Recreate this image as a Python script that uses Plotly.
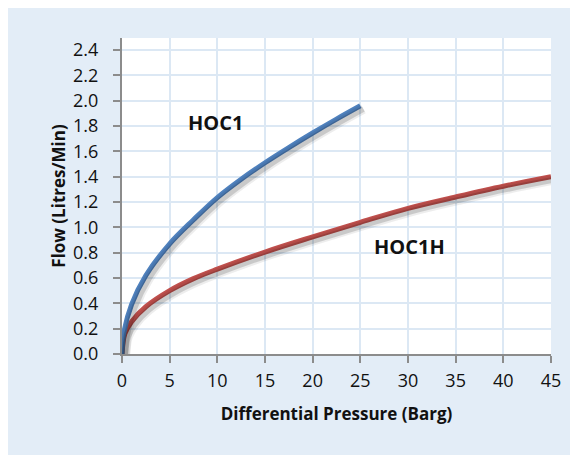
import plotly.graph_objects as go

# Data
pressure_hoc1 = [0, 0.2, 1, 2.5, 5, 7.5, 10, 12.5, 15, 17.5, 20, 22.5, 25]
flow_hoc1 = [0.0, 0.17, 0.39, 0.62, 0.87, 1.06, 1.235, 1.38, 1.51, 1.63, 1.745, 1.855, 1.96]
pressure_hoc1h = [0, 0.3, 1, 2.5, 5, 7.5, 10, 15, 20, 25, 30, 35, 40, 45]
flow_hoc1h = [0.0, 0.16, 0.255, 0.373, 0.50, 0.595, 0.67, 0.805, 0.925, 1.04, 1.15, 1.24, 1.325, 1.40]
x_ticks = [0, 5, 10, 15, 20, 25, 30, 35, 40, 45]
y_ticks = [0.0, 0.2, 0.4, 0.6, 0.8, 1.0, 1.2, 1.4, 1.6, 1.8, 2.0, 2.2, 2.4]

W, H = 578, 455
L, R, T, B = 114, 35, 30, 109
pw, ph = W - L - R, H - T - B
XR = [0, 45]
YR = [0, 2.495]
sx = 3 * (XR[1] - XR[0]) / pw
sy = 3 * (YR[1] - YR[0]) / ph

FONT = "Open Sans"
BG = "#e3edf7"
GRID = "#dce8f4"
AX = "#8c8c8c"
fig = go.Figure()

# soft shadows under the curves
for xs, ys in [(pressure_hoc1h, flow_hoc1h), (pressure_hoc1, flow_hoc1)]:
    for w, a in [(10, 0.07), (6, 0.15)]:
        fig.add_trace(go.Scatter(x=xs, y=ys, mode="lines", xaxis="x2", yaxis="y2",
                                 line=dict(color=f"rgba(0,0,0,{a})", width=w, shape="spline"),
                                 hoverinfo="skip", showlegend=False))

fig.add_trace(go.Scatter(x=pressure_hoc1h, y=flow_hoc1h, mode="lines", name="HOC1H",
                         line=dict(color="#c0504d", width=5, shape="spline")))
fig.add_trace(go.Scatter(x=pressure_hoc1, y=flow_hoc1, mode="lines", name="HOC1",
                         line=dict(color="#4f81bd", width=5, shape="spline")))

fig.add_annotation(x=9.76, y=1.83, text="<b>HOC1</b>", showarrow=False,
                   font=dict(family=FONT, size=20, color="#111"))
fig.add_annotation(x=30.2, y=0.845, text="<b>HOC1H</b>", showarrow=False,
                   font=dict(family=FONT, size=20, color="#111"))

fig.update_layout(
    width=W, height=H, margin=dict(l=L, r=R, t=T, b=B),
    paper_bgcolor=BG, plot_bgcolor="white", showlegend=False,
    font=dict(family=FONT, size=18, color="#111"),
    xaxis=dict(range=XR, tickvals=x_ticks, showgrid=True, gridcolor=GRID, gridwidth=2,
               showline=True, linecolor=AX, linewidth=2, ticks="outside", ticklen=7,
               tickcolor=AX, tickwidth=2, zeroline=False, tickfont=dict(size=18),
               ticklabelstandoff=2,
               title=dict(text="<b>Differential Pressure (Barg)</b>", font=dict(size=17), standoff=18)),
    yaxis=dict(range=YR, tickvals=y_ticks, tickformat=".1f", showgrid=True, gridcolor=GRID,
               gridwidth=2, showline=True, linecolor=AX, linewidth=2, ticks="outside", ticklen=7,
               tickcolor=AX, tickwidth=2, zeroline=False, tickfont=dict(size=18),
               ticklabelstandoff=11,
               title=dict(text="<b>Flow (Litres/Min)</b>", font=dict(size=17), standoff=3)),
    xaxis2=dict(range=[XR[0] - sx, XR[1] - sx], anchor="y2", overlaying="x", visible=False),
    yaxis2=dict(range=[YR[0] + sy, YR[1] + sy], anchor="x2", overlaying="y", visible=False),
)

fig.write_html("out.html")
